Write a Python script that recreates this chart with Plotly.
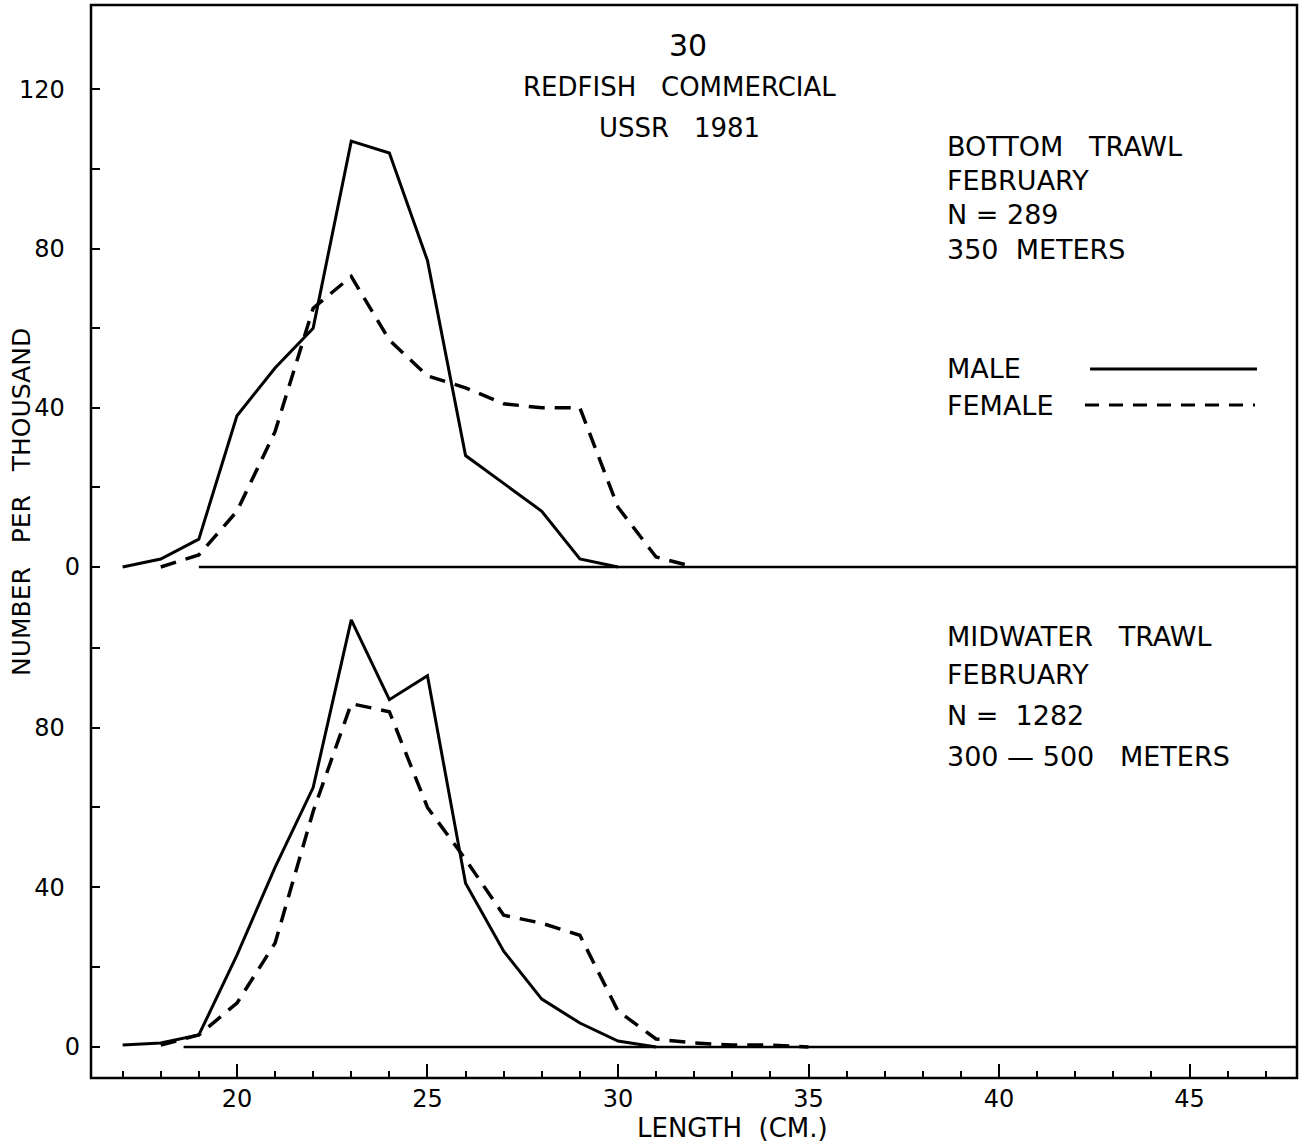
import plotly.graph_objects as go

# ---------------- data ----------------
length_top_male = [17, 18, 19, 20, 21, 22, 23, 24, 25, 26, 27, 28, 29, 30]
top_male = [0, 2, 7, 38, 50, 60, 107, 104, 77, 28, 21, 14, 2, 0]

length_top_female = [18, 19, 20, 21, 22, 23, 24, 25, 26, 27, 28, 29, 30, 31, 32]
top_female = [0, 3, 14, 34, 65, 73, 57, 48, 45, 41, 40, 40, 15, 2.5, 0]

length_bot_male = [17, 18, 19, 20, 21, 22, 23, 24, 25, 26, 27, 28, 29, 30, 31]
bot_male = [0.5, 1, 3, 23, 45, 65, 107, 87, 93, 41, 24, 12, 6, 1.5, 0]

length_bot_female = [18, 19, 20, 21, 22, 23, 24, 25, 26, 27, 28, 29, 30, 31, 32, 33, 34, 35]
bot_female = [0.5, 3, 11, 26, 59, 86, 84, 60, 47, 33, 31, 28, 9, 2, 1, 0.5, 0.5, 0]

NB = "\u00a0"
top_y_ticks = [0, 20, 40, 60, 80, 100, 120]
top_y_labels = ["0", "", "40" + NB * 2, "", "80" + NB * 2, "", "120" + NB * 2]
bot_y_ticks = [0, 20, 40, 60, 80, 100]
bot_y_labels = ["0", "", "40" + NB * 2, "", "80" + NB * 2, ""]

# ---------------- figure ----------------
FONT = "DejaVu Sans"
X_RANGE = [16.17, 47.82]
TOP_RANGE = [-1.26, 141.2]
BOT_RANGE = [-7.77, 119.0]
SPLIT = 0.4716

fig = go.Figure()

solid = dict(color="black", width=3)
dashed = dict(color="black", width=3.5, dash="16px,10px")

fig.add_trace(go.Scatter(x=length_top_male, y=top_male, mode="lines", line=solid,
                         xaxis="x", yaxis="y", name="MALE", showlegend=False))
fig.add_trace(go.Scatter(x=length_top_female, y=top_female, mode="lines", line=dashed,
                         xaxis="x", yaxis="y", name="FEMALE", showlegend=False))
fig.add_trace(go.Scatter(x=length_bot_male, y=bot_male, mode="lines", line=solid,
                         xaxis="x2", yaxis="y2", name="MALE", showlegend=False))
fig.add_trace(go.Scatter(x=length_bot_female, y=bot_female, mode="lines", line=dashed,
                         xaxis="x2", yaxis="y2", name="FEMALE", showlegend=False))

tickfont = dict(family=FONT, size=24, color="black")

fig.update_layout(
    width=1307, height=1146,
    margin=dict(l=91, r=10, t=5, b=68),
    paper_bgcolor="white", plot_bgcolor="white",
    showlegend=False,
    xaxis=dict(domain=[0, 1], anchor="y", range=X_RANGE, showgrid=False, zeroline=False,
               showticklabels=False, ticks="", showline=False),
    yaxis=dict(domain=[SPLIT, 1], anchor="x", range=TOP_RANGE, showgrid=False, zeroline=False,
               tickvals=top_y_ticks, ticktext=top_y_labels, ticks="inside", ticklen=9,
               tickwidth=2, tickcolor="black", tickfont=tickfont, ticklabelstandoff=10,
               showline=False),
    xaxis2=dict(domain=[0, 1], anchor="y2", range=X_RANGE, showgrid=False, zeroline=False,
                tickmode="linear", tick0=0, dtick=5, ticks="inside", ticklen=14, tickwidth=2,
                tickcolor="black", tickfont=tickfont, ticklabelstandoff=4,
                minor=dict(tick0=0, dtick=1, ticks="inside", ticklen=7, tickwidth=2,
                           tickcolor="black", showgrid=False),
                showline=False),
    yaxis2=dict(domain=[0, SPLIT], anchor="x2", range=BOT_RANGE, showgrid=False, zeroline=False,
                tickvals=bot_y_ticks, ticktext=bot_y_labels, ticks="inside", ticklen=9,
                tickwidth=2, tickcolor="black", tickfont=tickfont, ticklabelstandoff=10,
                showline=False),
)

# frame
fig.add_shape(type="rect", xref="paper", yref="paper", x0=0, x1=1, y0=0, y1=1,
              line=dict(color="black", width=2.5), layer="above")
# zero baselines
fig.add_shape(type="line", xref="x", yref="y", x0=19, x1=X_RANGE[1], y0=0, y1=0,
              line=dict(color="black", width=2.5))
fig.add_shape(type="line", xref="x2", yref="y2", x0=18.6, x1=X_RANGE[1], y0=0, y1=0,
              line=dict(color="black", width=2.5))

# legend sample lines
fig.add_shape(type="line", xref="paper", yref="paper", x0=0.8284, x1=0.9668, y0=0.6608, y1=0.6608,
              line=dict(color="black", width=3))
fig.add_shape(type="line", xref="paper", yref="paper", x0=0.8242, x1=0.9652, y0=0.6272, y1=0.6272,
              line=dict(color="black", width=3, dash="14px,10px"))

def ann(text, x, y, size=27, xanchor="left", angle=0):
    fig.add_annotation(text=text, x=x, y=y, xref="paper", yref="paper", showarrow=False,
                       xanchor=xanchor, yanchor="middle", textangle=angle,
                       font=dict(family=FONT, size=size, color="black"))

# title block
ann("30", 0.495, 0.9627, size=30, xanchor="center")
ann("REDFISH" + NB * 3 + "COMMERCIAL", 0.488, 0.9236, size=26, xanchor="center")
ann("USSR" + NB * 3 + "1981", 0.488, 0.8854, size=26, xanchor="center")

# top panel notes
ann("BOTTOM" + NB * 3 + "TRAWL", 0.708, 0.8677)
ann("FEBRUARY", 0.708, 0.8360)
ann("N = 289", 0.708, 0.8043)
ann("350" + NB * 2 + "METERS", 0.708, 0.7717)
ann("MALE", 0.708, 0.6608)
ann("FEMALE", 0.708, 0.6272)

# bottom panel notes
ann("MIDWATER" + NB * 3 + "TRAWL", 0.708, 0.4110)
ann("FEBRUARY", 0.708, 0.3765)
ann("N =" + NB * 2 + "1282", 0.708, 0.3383)
ann("300 \u2014 500" + NB * 3 + "METERS", 0.708, 0.2992)

# axis titles
ann("LENGTH" + NB * 2 + "(CM.)", 0.532, -0.0466, size=26, xanchor="center")
ann("NUMBER" + NB * 3 + "PER" + NB * 3 + "THOUSAND", -0.0580, 0.5368, size=25,
    xanchor="center", angle=-90)

fig.write_html("out.html", post_script="document.body.style.margin='0px';",
               config={"displayModeBar": False})
